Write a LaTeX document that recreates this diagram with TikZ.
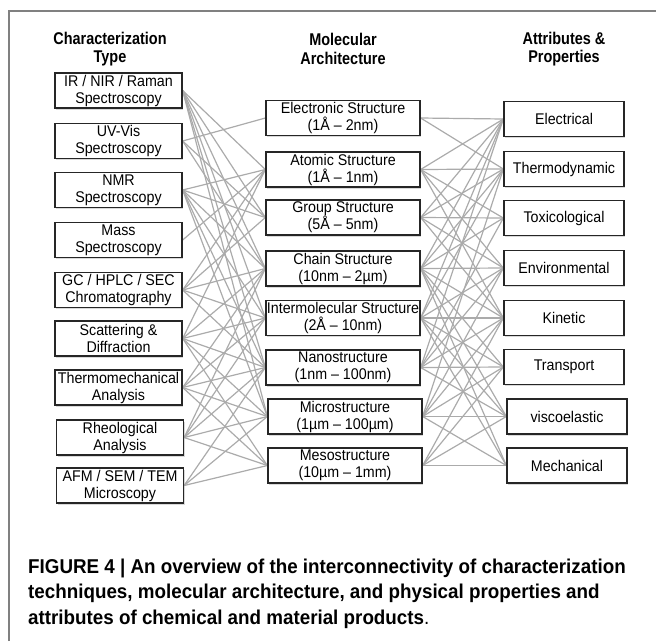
\documentclass[tikz,border=0pt]{standalone}
\usepackage{fontspec}
\setmainfont{Liberation Sans}
\newfontfamily\boxfont[FakeStretch=0.92]{Liberation Sans}
\newfontfamily\headfont[FakeStretch=0.85]{Liberation Sans}
\newfontfamily\captfont[FakeStretch=0.94]{Liberation Sans}
\usetikzlibrary{shadows,backgrounds}

\tikzset{
  box/.style={draw=black!85, line width=1.3pt, fill=white, minimum height=35pt,
    inner sep=0pt, align=center, font=\boxfont\fontsize{15.5}{17}\selectfont,
    drop shadow={shadow xshift=1pt, shadow yshift=-1.6pt, opacity=0.3}},
  lbox/.style={box, minimum width=127pt},
  mbox/.style={box, minimum width=154pt},
  rbox/.style={box, minimum width=120pt},
  head/.style={font=\headfont\bfseries\fontsize{17}{18.5}\selectfont, align=center},
  capt/.style={font=\captfont\bfseries\fontsize{20}{22}\selectfont, anchor=base west, inner sep=0pt},
  link/.style={draw=black!33, line width=1.2pt},
  frame/.style={draw=black!50, line width=2pt},
}

\begin{document}
\begin{tikzpicture}[x=1pt,y=-1pt]
\useasboundingbox (0,0) rectangle (656,641);
\draw[frame] (9,641) -- (9,11) -- (656,11);

% headers
\node[head] (h1) at (110,49) {Characterization\\Type};
\node[head] (h2) at (343,49) {Molecular\\Architecture};
\node[head] (h3) at (564,49) {Attributes \&\\Properties};

% left column
\node[lbox] (ir)   at (118.5,90.5) {IR / NIR / Raman\\Spectroscopy};
\node[lbox] (uv)   at (118.5,141)  {UV-Vis\\Spectroscopy};
\node[lbox] (nmr)  at (118.5,190)  {NMR\\Spectroscopy};
\node[lbox] (mass) at (118.5,240)  {Mass\\Spectroscopy};
\node[lbox] (gc)   at (118.5,290)  {GC / HPLC / SEC\\Chromatography};
\node[lbox] (scat) at (118.5,338.5){Scattering \&\\Diffraction};
\node[lbox] (tma)  at (118.5,387.5){Thermomechanical\\Analysis};
\node[lbox] (rheo) at (120,437.5)  {Rheological\\Analysis};
\node[lbox] (afm)  at (120,485.5)  {AFM / SEM / TEM\\Microscopy};

% middle column
\node[mbox] (elec)  at (343,118)   {Electronic Structure\\(1Å – 2nm)};
\node[mbox] (atom)  at (343,169.5) {Atomic Structure\\(1Å – 1nm)};
\node[mbox] (group) at (343,217.5) {Group Structure\\(5Å – 5nm)};
\node[mbox] (chain) at (343,268.5) {Chain Structure\\(10nm – 2µm)};
\node[mbox] (inter) at (343,318)   {Intermolecular Structure\\(2Å – 10nm)};
\node[mbox] (nano)  at (343,367.5) {Nanostructure\\(1nm – 100nm)};
\node[mbox] (micro) at (345,416.5) {Microstructure\\(1µm – 100µm)};
\node[mbox] (meso)  at (345,465.5) {Mesostructure\\(10µm – 1mm)};

% right column
\node[rbox] (pel)  at (564,119)   {Electrical};
\node[rbox] (pth)  at (564,169)   {Thermodynamic};
\node[rbox] (ptox) at (564,218)   {Toxicological};
\node[rbox] (penv) at (564,268)   {Environmental};
\node[rbox] (pkin) at (564,318)   {Kinetic};
\node[rbox] (ptr)  at (564,367)   {Transport};
\node[rbox] (pvis) at (567,416.5) {viscoelastic};
\node[rbox] (pme)  at (567,465.5) {Mechanical};

\begin{scope}[on background layer]
\foreach \a/\b in {ir/atom, ir/group, ir/chain, ir/inter, ir/nano, ir/micro,
  uv/elec, uv/group, uv/chain,
  nmr/atom, nmr/group, nmr/chain, nmr/inter, nmr/nano, nmr/micro,
  mass/atom,
  gc/atom, gc/group, gc/chain, gc/inter, gc/nano,
  scat/atom, scat/chain, scat/inter, scat/nano, scat/micro, scat/meso,
  tma/chain, tma/inter, tma/nano, tma/micro, tma/meso,
  rheo/chain, rheo/inter, rheo/nano, rheo/micro, rheo/meso,
  afm/nano, afm/micro, afm/meso}
  \draw[link] (\a.east) -- (\b.west);
\foreach \a/\b in {elec/pel, elec/pth,
  atom/pel, atom/pth, atom/ptox, atom/penv, atom/pkin,
  group/pel, group/pth, group/ptox, group/penv, group/pkin,
  chain/pel, chain/pth, chain/ptox, chain/penv, chain/pkin, chain/ptr, chain/pvis, chain/pme,
  inter/pel, inter/pth, inter/penv, inter/pkin, inter/ptr, inter/pvis, inter/pme,
  nano/pel, nano/ptox, nano/penv, nano/pkin, nano/ptr, nano/pvis,
  micro/pth, micro/penv, micro/pkin, micro/ptr, micro/pvis, micro/pme,
  meso/pkin, meso/ptr, meso/pvis, meso/pme}
  \draw[link] (\a.east) -- (\b.west);
\end{scope}

% caption
\node[capt] (c1) at (28,573) {FIGURE 4 | An overview of the interconnectivity of characterization};
\node[capt] (c2) at (28,598.5) {techniques, molecular architecture, and physical properties and};
\node[capt] (c3) at (28,624) {attributes of chemical and material products{\mdseries .}};
\end{tikzpicture}
\end{document}
